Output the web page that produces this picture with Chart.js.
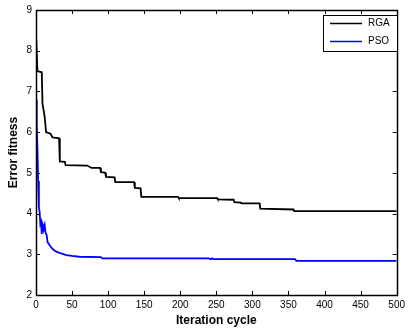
<!DOCTYPE html>
<html>
<head>
<meta charset="utf-8">
<script src="https://cdn.jsdelivr.net/npm/chart.js@4.4.1/dist/chart.umd.min.js"></script>
<style>
  html, body { margin: 0; padding: 0; background: #fff; }
  #wrap { width: 409px; height: 331px; }
</style>
</head>
<body>
<div id="wrap"><canvas id="errChart" width="409" height="331"></canvas></div>
<script>
// iteration / fitness pairs
const rgaIter = [0, 2, 8, 9, 12, 14, 20, 23, 32, 33, 40, 41, 71, 77, 89, 90, 96, 97, 109, 110, 136, 137, 145, 146, 197, 198, 251, 252, 274, 275, 284, 285, 310, 311, 357, 358, 500];
const rgaFit  = [8.4, 7.5, 7.47, 6.7, 6.38, 6.0, 5.96, 5.87, 5.85, 5.28, 5.27, 5.19, 5.18, 5.12, 5.12, 5.02, 5.0, 4.9, 4.89, 4.77, 4.77, 4.63, 4.62, 4.41, 4.41, 4.38, 4.38, 4.35, 4.34, 4.28, 4.27, 4.25, 4.25, 4.12, 4.1, 4.06, 4.06];

const psoIter = [0, 1, 2, 3, 4, 5, 6, 7, 8, 9, 10, 11, 12, 13, 15, 16, 19, 22, 25, 29, 35, 42, 50, 60, 90, 92, 240, 242, 244, 246, 359, 361, 500];
const psoFit  = [6.8, 6.2, 5.6, 4.8, 4.15, 4.05, 3.75, 3.8, 3.5, 3.75, 3.7, 3.65, 3.72, 3.55, 3.45, 3.3, 3.22, 3.15, 3.1, 3.06, 3.02, 2.98, 2.96, 2.94, 2.93, 2.9, 2.9, 2.88, 2.9, 2.88, 2.88, 2.84, 2.84];

const seriesNames = ["RGA", "PSO"];
const seriesColors = ["#000000", "#0000ff"];

function toPoints(xs, ys) {
    return xs.map((x, i) => ({ x: x, y: ys[i] }));
}

// matlab style box with inward ticks + legend inside the axes
const boxPlugin = {
    id: "boxPlugin",
    afterDatasetsDraw(chart) {
        const ctx = chart.ctx;
        const a = chart.chartArea;
        const xs = chart.scales.x, ys = chart.scales.y;
        const tl = 4;
        ctx.save();
        ctx.strokeStyle = "#000";
        ctx.lineWidth = 1;
        ctx.beginPath();
        xs.ticks.forEach(t => {
            const px = Math.round(xs.getPixelForValue(t.value)) + 0.5;
            ctx.moveTo(px, a.bottom); ctx.lineTo(px, a.bottom - tl);
            ctx.moveTo(px, a.top); ctx.lineTo(px, a.top + tl);
        });
        ys.ticks.forEach(t => {
            const py = Math.round(ys.getPixelForValue(t.value)) + 0.5;
            ctx.moveTo(a.left, py); ctx.lineTo(a.left + tl, py);
            ctx.moveTo(a.right, py); ctx.lineTo(a.right - tl, py);
        });
        ctx.stroke();
        ctx.lineWidth = 1.5;
        ctx.strokeRect(Math.round(a.left) + 0.5, Math.round(a.top) + 0.5,
            Math.round(a.right - a.left), Math.round(a.bottom - a.top));

        // legend
        const lx = 323, ly = 15, lw = 74, lh = 36;
        ctx.fillStyle = "#fff";
        ctx.fillRect(lx, ly, lw, lh);
        ctx.lineWidth = 1;
        ctx.strokeRect(lx + 0.5, ly + 0.5, lw, lh);
        ctx.font = "10px 'Liberation Sans', Arial, sans-serif";
        ctx.textBaseline = "middle";
        chart.data.datasets.forEach((ds, i) => {
            const yy = ly + 8.5 + i * 18;
            ctx.strokeStyle = ds.borderColor;
            ctx.lineWidth = 1.5;
            ctx.beginPath();
            ctx.moveTo(lx + 7, yy); ctx.lineTo(lx + 39, yy);
            ctx.stroke();
            ctx.fillStyle = "#000";
            ctx.fillText(ds.label, lx + 45, yy);
        });
        ctx.restore();
    }
};

const ctx = document.getElementById("errChart");
new Chart(ctx, {
    type: "line",
    data: {
        datasets: [
            {
                label: seriesNames[0],
                data: toPoints(rgaIter, rgaFit),
                borderColor: seriesColors[0],
                borderWidth: 1.8,
                pointRadius: 0,
                tension: 0
            },
            {
                label: seriesNames[1],
                data: toPoints(psoIter, psoFit),
                borderColor: seriesColors[1],
                borderWidth: 1.8,
                pointRadius: 0,
                tension: 0
            }
        ]
    },
    options: {
        responsive: false,
        animation: false,
        layout: { padding: { left: 0, top: 9, right: 8, bottom: 0 } },
        plugins: {
            legend: { display: false },
            tooltip: { enabled: false }
        },
        scales: {
            x: {
                type: "linear",
                min: 0,
                max: 500,
                grid: { display: false, drawTicks: false },
                border: { display: false },
                ticks: {
                    stepSize: 50,
                    padding: 4,
                    color: "#000",
                    maxRotation: 0,
                    font: { family: "'Liberation Sans', Arial, sans-serif", size: 10 }
                },
                title: {
                    display: true,
                    text: "Iteration cycle",
                    color: "#000",
                    padding: { top: 0, bottom: 3 },
                    font: { family: "'Liberation Sans', Arial, sans-serif", size: 12, weight: "bold" }
                },
                afterFit: s => { s.height = 36; }
            },
            y: {
                min: 2,
                max: 9,
                grid: { display: false, drawTicks: false },
                border: { display: false },
                ticks: {
                    stepSize: 1,
                    padding: 4,
                    color: "#000",
                    font: { family: "'Liberation Sans', Arial, sans-serif", size: 10 }
                },
                title: {
                    display: true,
                    text: "Error fitness",
                    color: "#000",
                    padding: { top: 6, bottom: 0 },
                    font: { family: "'Liberation Sans', Arial, sans-serif", size: 12, weight: "bold" }
                },
                afterFit: s => { s.width = 36; }
            }
        }
    },
    plugins: [boxPlugin]
});
</script>
</body>
</html>
